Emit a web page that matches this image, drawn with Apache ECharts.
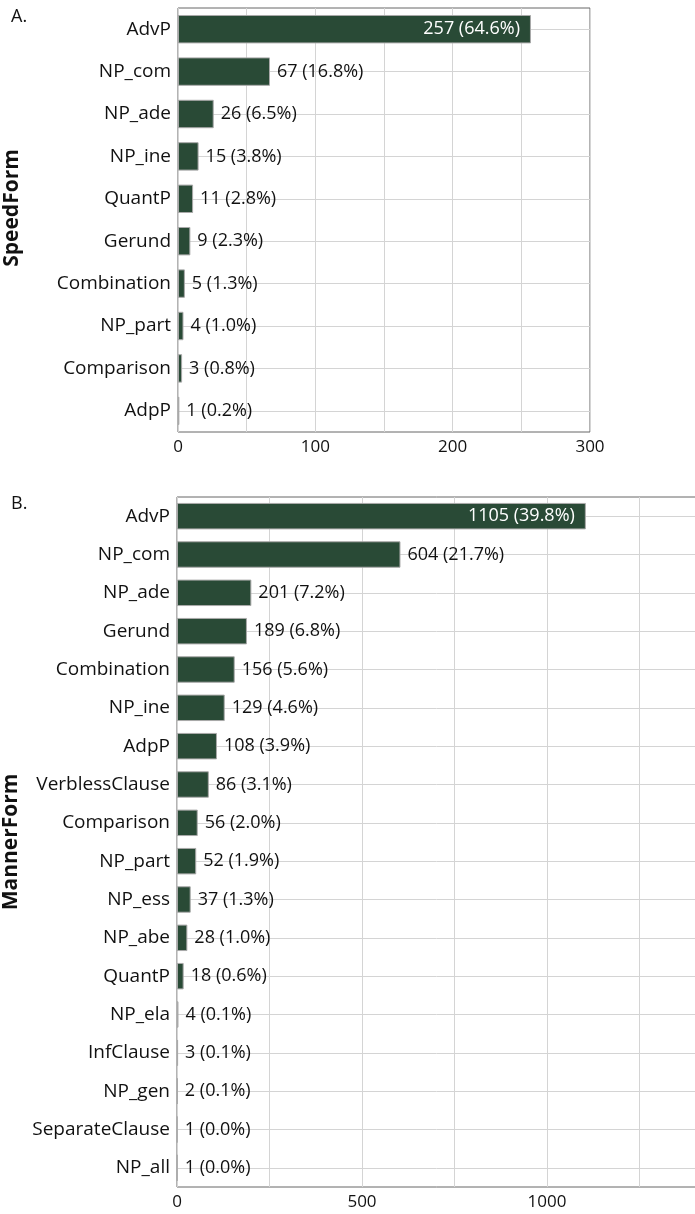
<!DOCTYPE html>
<html>
<head>
<meta charset="utf-8">
<script src="https://cdn.jsdelivr.net/npm/echarts@6/dist/echarts.min.js"></script>
<style>
html,body{margin:0;padding:0;background:#fff;}
#c{width:695px;height:1214px;}
</style>
</head>
<body>
<div id="c"></div>
<script>
// Panel A: SpeedForm
const speedCats = ['AdvP','NP_com','NP_ade','NP_ine','QuantP','Gerund','Combination','NP_part','Comparison','AdpP'];
const speedVals = [257, 67, 26, 15, 11, 9, 5, 4, 3, 1];
const speedPct  = [64.6, 16.8, 6.5, 3.8, 2.8, 2.3, 1.3, 1.0, 0.8, 0.2];
const speedTicks = [0, 100, 200, 300];

// Panel B: MannerForm
const mannerCats = ['AdvP','NP_com','NP_ade','Gerund','Combination','NP_ine','AdpP','VerblessClause','Comparison','NP_part','NP_ess','NP_abe','QuantP','NP_ela','InfClause','NP_gen','SeparateClause','NP_all'];
const mannerVals = [1105, 604, 201, 189, 156, 129, 108, 86, 56, 52, 37, 28, 18, 4, 3, 2, 1, 1];
const mannerPct  = [39.8, 21.7, 7.2, 6.8, 5.6, 4.6, 3.9, 3.1, 2.0, 1.9, 1.3, 1.0, 0.6, 0.1, 0.1, 0.1, 0.0, 0.0];
const mannerTicks = [0, 500, 1000];

const FONT = 'Open Sans';
const BAR = '#294a36';

function buildData(vals, pct) {
  return vals.map((v, i) => {
    const item = { value: v, pct: pct[i] };
    if (i === 0) {
      item.label = { position: 'insideRight', color: '#ffffff', distance: 11 };
    }
    return item;
  });
}

function valueAxis(gridIndex, max, interval, ticks) {
  return {
    type: 'value', gridIndex, min: 0, max, interval,
    axisLine: { show: false }, axisTick: { show: false },
    splitLine: { show: true, lineStyle: { color: '#d4d4d4', width: 1 } },
    axisLabel: {
      fontFamily: FONT, fontSize: 17, color: '#111', margin: 7,
      formatter: v => ticks.indexOf(v) >= 0 ? String(v) : ''
    }
  };
}

function catAxis(gridIndex, cats, name, gap, namePad) {
  return {
    type: 'category', gridIndex, data: cats, inverse: true,
    name, nameLocation: 'middle', nameGap: gap,
    nameTextStyle: { fontFamily: FONT, fontSize: 21, fontWeight: 'bold', color: '#111', padding: namePad },
    axisLine: { show: false }, axisTick: { show: false },
    splitLine: { show: true, alignWithLabel: true, lineStyle: { color: '#d4d4d4', width: 1 } },
    axisLabel: { fontFamily: FONT, fontSize: 19, color: '#111', margin: 7, interval: 0 }
  };
}

function barSeries(idx, vals, pct, gap) {
  return {
    type: 'bar', xAxisIndex: idx, yAxisIndex: idx,
    data: buildData(vals, pct),
    barCategoryGap: gap,
    itemStyle: { color: BAR, borderColor: '#a9a9a9', borderWidth: 1 },
    label: {
      show: true, position: 'right', distance: 7,
      fontFamily: FONT, fontSize: 18, color: '#111',
      formatter: p => p.value + ' (' + p.data.pct.toFixed(1) + '%)'
    },
    silent: true, animation: false
  };
}

const chart = echarts.init(document.getElementById('c'), null, { renderer: 'canvas' });
chart.setOption({
  backgroundColor: '#fff',
  animation: false,
  title: [
    { text: 'A.', left: 6, top: 3, textStyle: { fontFamily: FONT, fontSize: 18, fontWeight: 'normal', color: '#111' } },
    { text: 'B.', left: 6, top: 490, textStyle: { fontFamily: FONT, fontSize: 18, fontWeight: 'normal', color: '#111' } }
  ],
  grid: [
    { left: 178, right: 105, top: 8, height: 424, show: true, borderColor: '#666', borderWidth: 1, backgroundColor: 'transparent', outerBoundsMode: 'none', containLabel: false },
    { left: 177, right: -37, top: 497, height: 690, show: true, borderColor: '#666', borderWidth: 1, backgroundColor: 'transparent', outerBoundsMode: 'none', containLabel: false }
  ],
  xAxis: [
    valueAxis(0, 300, 50, speedTicks),
    valueAxis(1, 1500, 250, mannerTicks)
  ],
  yAxis: [
    catAxis(0, speedCats, 'SpeedForm', 155, [0, 0, 0, 24]),
    catAxis(1, mannerCats, 'MannerForm', 154, [0, 0, 0, 0])
  ],
  series: [
    barSeries(0, speedVals, speedPct, '33%'),
    barSeries(1, mannerVals, mannerPct, '31%')
  ]
});
</script>
</body>
</html>
